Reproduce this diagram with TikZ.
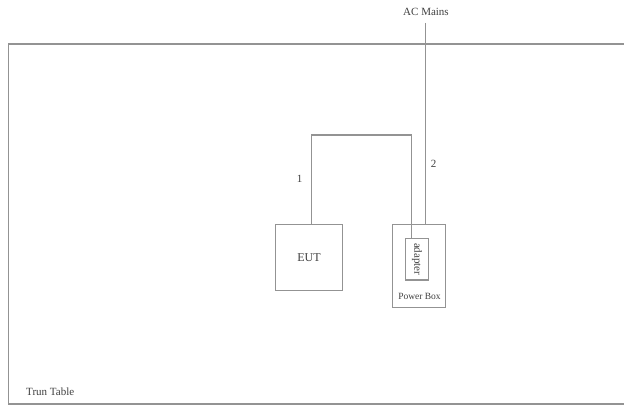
\documentclass[tikz,border=0pt]{standalone}
\usepackage{fontspec}
\setmainfont{Liberation Serif}
\usetikzlibrary{positioning,calc}
\tikzset{
  unit/.style={draw=gray!85,line width=1.1pt,inner sep=0pt,align=center,
              font=\fontsize{12}{14}\selectfont,text=black!75},
  lbl/.style={inner sep=0pt,font=\fontsize{11}{13}\selectfont,text=black!75},
  cable/.style={draw=gray!85,line width=1.1pt},
}

\begin{document}
\begin{tikzpicture}[x=1pt,y=-1pt]
  \useasboundingbox[fill=white] (0,0) rectangle (624,406);
  % turn table
  \draw[cable] (630,44) -- (8.5,44) -- (8.5,404) -- (630,404);
  \node[lbl,anchor=west] (table) at (26,392) {Trun Table};
  % equipment
  \node[unit,minimum width=66.5pt,minimum height=66.5pt] (eut) at (309,257.6) {EUT};
  \node[unit,minimum width=53pt,minimum height=83.5pt] (pbox) at (419.2,266) {};
  \node[unit,minimum width=41.5pt,minimum height=22.5pt,rotate=-90,
        font=\fontsize{11}{13}\selectfont] (adapter) at (417,259.2) {adapter};
  \node[lbl,font=\fontsize{9.5}{11}\selectfont] (pblabel) at (419.5,296.5) {Power Box};
  \node[lbl] (mains) at (426,12) {AC Mains};
  % cables
  \coordinate (c1a) at (311.7,135);
  \coordinate (c1b) at (411.7,135);
  \draw[cable] (eut.north -| c1a) -- (c1a) -- (c1b) -- (adapter.west -| c1b);
  \coordinate (c2) at (425.7,23);
  \draw[cable] (c2) -- (c2 |- pbox.north);
  \node[lbl] (n1) at (299.5,179) {1};
  \node[lbl] (n2) at (433.5,163.5) {2};
\end{tikzpicture}
\end{document}
